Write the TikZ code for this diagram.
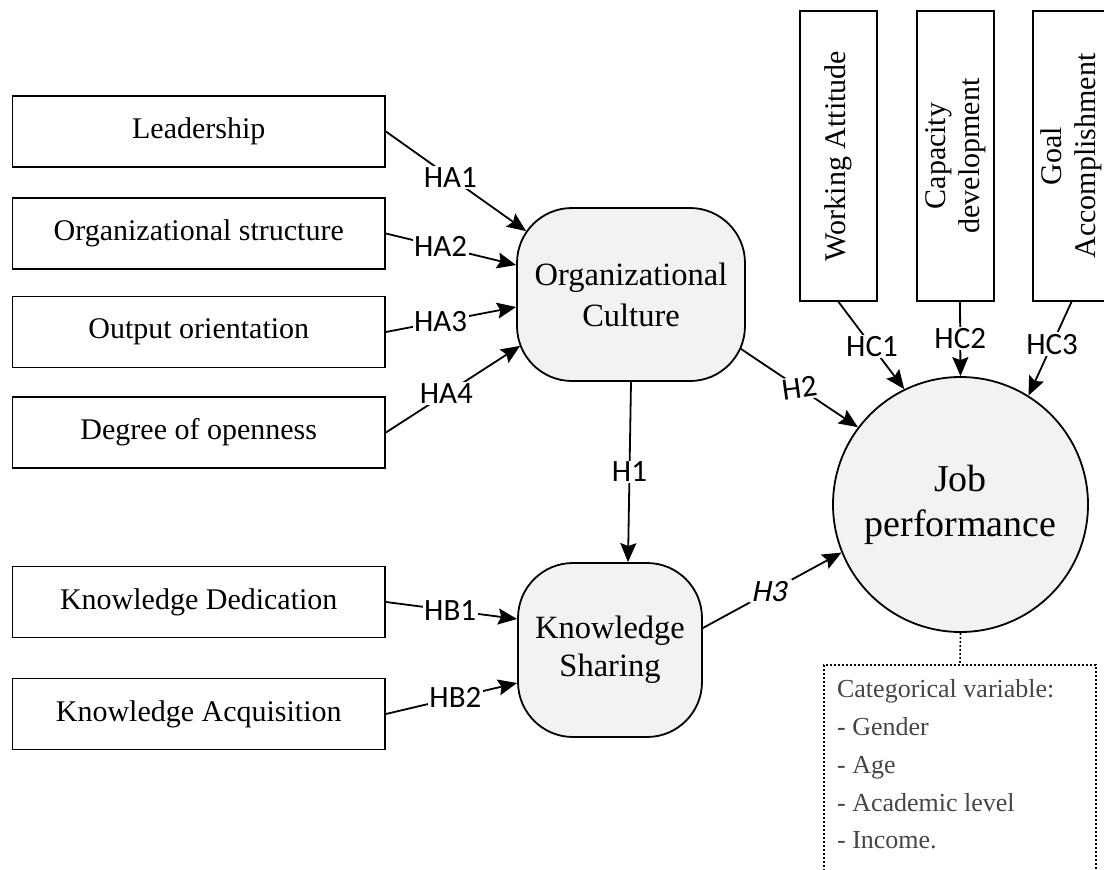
\documentclass[tikz,border=0pt]{standalone}
\usepackage{fontspec}
\setmainfont{Liberation Serif}
\newfontfamily\lblfont{Carlito}
\usetikzlibrary{arrows.meta,calc}
\definecolor{boxfill}{HTML}{F2F2F2}
\definecolor{notegray}{HTML}{454545}
\begin{document}
\begin{tikzpicture}[x=1pt,y=-1pt,line width=1.8pt,
  factor/.style={draw, minimum width=372.5pt, minimum height=71pt, inner sep=0pt,
    font=\fontsize{30}{36}\selectfont},
  construct/.style={draw, fill=boxfill, rounded corners=55pt, inner sep=0pt,
    align=center},
  indicator/.style={draw, rotate=90, minimum width=290pt, minimum height=77pt,
    inner sep=0pt, align=center, font=\fontsize{30}{34}\selectfont},
  link/.style={-{Stealth[length=19pt,width=16pt,inset=3pt]}},
  lbl/.style={fill=white, inner sep=1.5pt, font=\lblfont\fontsize{31}{31}\selectfont},
  dotline/.style={line width=1.6pt, dash pattern=on 2pt off 2pt},
]
\useasboundingbox (0,0) rectangle (1104,870);

% antecedent factors
\node[factor] (ld) at (198.75,131.5) {Leadership};
\node[factor] (os) at (198.75,233.5) {Organizational structure};
\node[factor] (oo) at (198.75,332)   {Output orientation};
\node[factor] (dg) at (198.75,432.5) {Degree of openness};
\node[factor] (kd) at (198.75,602)   {Knowledge Dedication};
\node[factor] (ka) at (198.75,714)   {Knowledge Acquisition};

% mediating constructs
\node[construct, minimum width=228pt, minimum height=173pt,
  font=\fontsize{32.5}{41}\selectfont] (oc) at (631,294.5) {Organizational\\Culture};
\node[construct, minimum width=184pt, minimum height=174pt,
  font=\fontsize{32.5}{38}\selectfont] (ks) at (610,650) {Knowledge\\Sharing};

% outcome
\node[circle, draw, fill=boxfill, minimum size=255pt, inner sep=0pt, align=center,
  font=\fontsize{38}{45}\selectfont] (jp) at (960.5,504.5) {Job\\performance};

% performance dimensions
\node[indicator] (wa) at (838.5,156)  {Working Attitude};
\node[indicator] (cd) at (955.5,156)  {Capacity\\development};
\node[indicator] (ga) at (1071.5,156) {Goal\\Accomplishment};

% categorical variables
\node[draw, dotline, minimum width=272pt, minimum height=240pt, inner sep=0pt,
  anchor=north] (cat) at (960,664) {};
\node[anchor=north west, inner sep=0pt, align=left, text=notegray,
  font=\fontsize{26}{37.7}\selectfont] (catlist) at ($(cat.north west)+(13,15)$)
  {Categorical variable:\\- Gender\\- Age\\- Academic level\\- Income.};
\draw[dotline] (jp.south) -- (cat.north);

% hypotheses
\draw[link] (ld.east) -- node[lbl,pos=0.46]{HA1} ($(oc.north west)+(10,24)$);
\draw[link] (os.east) -- node[lbl,pos=0.42]{HA2} ($(oc.west)+(0,-29.5)$);
\draw[link] (oo.east) -- node[lbl,pos=0.42]{HA3} ($(oc.west)+(0,12.5)$);
\draw[link] (dg.east) -- node[lbl,pos=0.45]{HA4} ($(oc.south west)+(4,-36)$);

\draw[link] (kd.east) -- node[lbl,pos=0.49]{HB1} ($(ks.west)+(0,-31)$);
\draw[link] (ka.east) -- node[lbl,pos=0.53]{HB2} ($(ks.west)+(0,33)$);

\draw[link] (oc.south) -- node[lbl,pos=0.5]{H1} ($(ks.north)+(18,0)$);
\draw[link] ($(oc.south east)+(-5,-33)$) -- node[lbl,pos=0.5,rotate=8]{H2} (jp.143.8);
\draw[link] ($(ks.east)+(0,-22)$) -- node[lbl,pos=0.49,xslant=0.2]{H3} (jp.202.7);

\draw[link] (wa.west) -- node[lbl,pos=0.51]{HC1} (jp.116.3);
\draw[link] ($(cd.west)+(4.5,0)$) -- node[lbl,pos=0.49]{HC2} (jp.north);
\draw[link] (ga.west) -- node[lbl,pos=0.45]{HC3} (jp.58.3);
\end{tikzpicture}
\end{document}
